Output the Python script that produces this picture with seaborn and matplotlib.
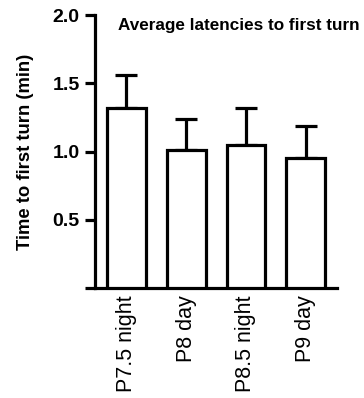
import matplotlib
matplotlib.use("Agg")
import matplotlib.pyplot as plt
import seaborn as sns
import numpy as np
import pandas as pd

categories = ["P7.5 night", "P8 day", "P8.5 night", "P9 day"]
means = [1.32, 1.01, 1.05, 0.95]
sems = [0.24, 0.23, 0.27, 0.24]
yticks = [0.0, 0.5, 1.0, 1.5, 2.0]
ytick_labels = ["", "0.5", "1.0", "1.5", "2.0"]

sns.set_style("ticks")
plt.rcParams['font.family'] = ['Liberation Sans', 'DejaVu Sans']
plt.rcParams['text.color'] = 'black'
plt.rcParams['axes.labelcolor'] = 'black'
plt.rcParams['xtick.color'] = 'black'
plt.rcParams['ytick.color'] = 'black'
plt.rcParams['axes.edgecolor'] = 'black'

fig = plt.figure(figsize=(3.64, 3.98), dpi=100)
ax = fig.add_axes([0.261, 0.276, 0.665, 0.686])

df = pd.DataFrame({"cond": categories, "val": means})
sns.barplot(data=df, x="cond", y="val", order=categories, color="white",
            edgecolor="black", linewidth=2.3, width=0.65, errorbar=None, ax=ax,
            zorder=3)
ax.errorbar(np.arange(len(categories)), means,
            yerr=[np.zeros(len(sems)), sems], fmt="none", ecolor="black",
            elinewidth=2.3, capsize=8, capthick=2.3, zorder=2)

ax.set_xlim(-0.52, 3.52)
ax.set_ylim(0, 2.0)
ax.set_yticks(yticks)
ax.set_yticklabels(ytick_labels, fontsize=14, fontweight="bold")
ax.set_xticks(range(len(categories)))
ax.set_xticklabels(categories, rotation=90, fontsize=15.5)
ax.tick_params(axis="x", length=0, pad=5)
ax.tick_params(axis="y", length=7, width=2.3, direction="out", pad=4)
for s in ["top", "right"]:
    ax.spines[s].set_visible(False)
for s in ["left", "bottom"]:
    ax.spines[s].set_linewidth(2.3)
ax.set_xlabel("")
ax.set_ylabel("Time to first turn (min)", fontsize=13.3, fontweight="bold", labelpad=13)
ax.text(0.095, 0.99, "Average latencies to first turn", transform=ax.transAxes,
        fontsize=12.3, fontweight="bold", va="top", ha="left")

fig.savefig("out.png", dpi=100)
